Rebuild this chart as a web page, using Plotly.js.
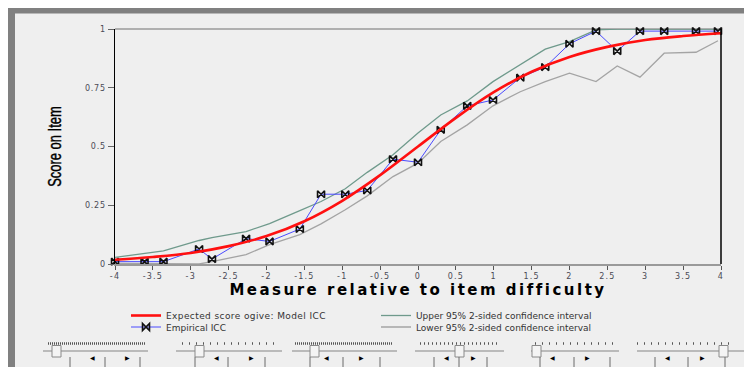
<!DOCTYPE html>
<html>
<head>
<meta charset="utf-8">
<script src="https://cdn.plot.ly/plotly-3.0.1.min.js"></script>
<style>
  html, body { margin: 0; padding: 0; background: #ffffff; }
  #chart { width: 744px; height: 367px; }
  .xtick text { letter-spacing: 1.2px; }
  .ytick text { letter-spacing: 0.8px; }
  .xtitle { letter-spacing: 2.5px; }
  .legendtext { letter-spacing: 0.4px; }
</style>
</head>
<body>
<div id="chart"></div>
<script>
// ---------------- data ----------------
const empiricalX = [-4, -3.61, -3.36, -2.89, -2.72, -2.27, -1.96, -1.56, -1.28, -0.96, -0.67, -0.33, 0, 0.3, 0.65, 0.99, 1.35, 1.68, 2.0, 2.35, 2.63, 2.93, 3.25, 3.67, 3.96];
const empiricalY = [0.01, 0.01, 0.01, 0.064, 0.021, 0.108, 0.096, 0.149, 0.297, 0.297, 0.313, 0.446, 0.433, 0.571, 0.673, 0.698, 0.793, 0.838, 0.937, 0.991, 0.906, 0.991, 0.991, 0.991, 0.991];
const upperCI   = [0.028, 0.046, 0.056, 0.100, 0.112, 0.138, 0.172, 0.227, 0.266, 0.320, 0.390, 0.465, 0.557, 0.634, 0.694, 0.776, 0.847, 0.914, 0.946, 0.996, 1, 1, 1, 1, 1];
const lowerCI   = [0.003, 0.002, 0.002, 0.0, 0.01, 0.04, 0.082, 0.125, 0.171, 0.231, 0.29, 0.372, 0.429, 0.521, 0.592, 0.673, 0.733, 0.776, 0.812, 0.776, 0.843, 0.795, 0.897, 0.901, 0.95];
const modelX = [-4, -3.5, -3, -2.5, -2, -1.5, -1, -0.5, 0, 0.5, 1, 1.5, 2, 2.5, 3, 3.5, 4];
const modelY = [0.018, 0.03, 0.047, 0.076, 0.119, 0.182, 0.269, 0.378, 0.5, 0.622, 0.731, 0.818, 0.881, 0.924, 0.953, 0.97, 0.982];
const xTickVals = [-4, -3.5, -3, -2.5, -2, -1.5, -1, -0.5, 0, 0.5, 1, 1.5, 2, 2.5, 3, 3.5, 4];
const xTickText = ['-4', '-3.5', '-3', '-2.5', '-2', '-1.5', '-1', '-0.5', '0', '0.5', '1', '1.5', '2', '2.5', '3', '3.5', '4'];
const yTickVals = [0, 0.25, 0.5, 0.75, 1];
const yTickText = ['0', '0.25', '0.5', '0.75', '1'];
const seriesNames = ['Expected score ogive: Model ICC', 'Empirical ICC', 'Upper 95% 2-sided confidence interval', 'Lower 95% 2-sided confidence interval'];
const xTitle = 'Measure relative to item difficulty';
const yTitle = 'Score on Item';

// ---------------- geometry helpers (layout only) ----------------
const W = 744, H = 367;
const M = { l: 115, r: 23, t: 29, b: 103 };
const PW = W - M.l - M.r, PH = H - M.t - M.b;
const px = v => (v - M.l) / PW;          // pixel x -> paper x
const py = v => (H - M.b - v) / PH;      // pixel y -> paper y

const traces = [
  { x: empiricalX, y: lowerCI, name: seriesNames[3], mode: 'lines', type: 'scatter',
    line: { color: '#a4a4a4', width: 1.3 }, legend: 'legend4', cliponaxis: false, hoverinfo: 'skip' },
  { x: empiricalX, y: upperCI, name: seriesNames[2], mode: 'lines', type: 'scatter',
    line: { color: '#6f9a8c', width: 1.3 }, legend: 'legend2', cliponaxis: false, hoverinfo: 'skip' },
  { x: empiricalX, y: empiricalY, name: seriesNames[1], mode: 'lines+markers', type: 'scatter',
    line: { color: '#4a4aff', width: 1 },
    marker: { symbol: 'bowtie-open', size: 7, color: '#111', line: { color: '#111', width: 1.6 } },
    legend: 'legend3', cliponaxis: false },
  { x: modelX, y: modelY, name: seriesNames[0], mode: 'lines', type: 'scatter',
    line: { color: '#ff1010', width: 2.6, shape: 'spline', smoothing: 1 }, legend: 'legend', cliponaxis: false }
];

const shapes = [];
const annotations = [];
// window frame
shapes.push({ type: 'rect', xref: 'paper', yref: 'paper', x0: px(0), x1: px(W), y0: py(0), y1: py(8), fillcolor: '#ffffff', line: { width: 0 }, layer: 'below' });
shapes.push({ type: 'rect', xref: 'paper', yref: 'paper', x0: px(0), x1: px(8), y0: py(0), y1: py(H), fillcolor: '#ffffff', line: { width: 0 }, layer: 'below' });
shapes.push({ type: 'rect', xref: 'paper', yref: 'paper', x0: px(8), x1: px(W), y0: py(8), y1: py(13.5), fillcolor: '#808080', line: { width: 0 }, layer: 'below' });
shapes.push({ type: 'rect', xref: 'paper', yref: 'paper', x0: px(8), x1: px(15), y0: py(8), y1: py(H), fillcolor: '#808080', line: { width: 0 }, layer: 'below' });
// plot border (top grey, right black)
shapes.push({ type: 'line', xref: 'paper', yref: 'paper', x0: 0, x1: 1, y0: 1, y1: 1, line: { color: '#9a9a9a', width: 1.5 }, layer: 'below' });
shapes.push({ type: 'line', xref: 'paper', yref: 'paper', x0: 1, x1: 1, y0: 0, y1: 1, line: { color: '#000000', width: 1.5 } });

// slider widgets at the bottom
const sliders = [
  { track: [43, 148], ticks: [48, 145], dash: '1px,1px', thumb: 52, btn: [70, 105, 140] },
  { track: [176, 282], ticks: [182, 278], dash: '1px,6px', thumb: 195, btn: [195, 228, 265] },
  { track: [292, 397], ticks: [295, 392], dash: '1px,1px', thumb: 310, btn: [310, 343, 380] },
  { track: [415, 504], ticks: [420, 500], dash: '1px,3px', thumb: 455, btn: [434, 459, 487] },
  { track: [531, 619], ticks: [535, 614], dash: '1px,6px', thumb: 532, btn: [540, 574, 610] },
  { track: [637, 744], ticks: [637, 735], dash: '1px,6px', thumb: 719, btn: [655, 688, 725] }
];
sliders.forEach(s => {
  shapes.push({ type: 'line', xref: 'paper', yref: 'paper', x0: px(s.ticks[0]), x1: px(s.ticks[1]), y0: py(343.5), y1: py(343.5), line: { color: '#555', width: 2.5, dash: s.dash } });
  shapes.push({ type: 'line', xref: 'paper', yref: 'paper', x0: px(s.track[0]), x1: px(s.track[1]), y0: py(351), y1: py(351), line: { color: '#a8a8a8', width: 1.5 } });
  shapes.push({ type: 'rect', xref: 'paper', yref: 'paper', x0: px(s.thumb), x1: px(s.thumb + 9), y0: py(345.5), y1: py(357), fillcolor: '#f4f4f4', line: { color: '#8a8a8a', width: 1 } });
  s.btn.forEach(b => {
    shapes.push({ type: 'line', xref: 'paper', yref: 'paper', x0: px(b), x1: px(b), y0: py(357), y1: py(367), line: { color: '#6a6a6a', width: 1 } });
  });
  annotations.push({ xref: 'paper', yref: 'paper', x: px((s.btn[0] + s.btn[1]) / 2), y: py(362.5), text: '◀', showarrow: false, font: { family: 'DejaVu Sans', size: 6, color: '#000' } });
  annotations.push({ xref: 'paper', yref: 'paper', x: px((s.btn[1] + s.btn[2]) / 2), y: py(362.5), text: '▶', showarrow: false, font: { family: 'DejaVu Sans', size: 6, color: '#000' } });
});

const legendBase = { bgcolor: 'rgba(0,0,0,0)', borderwidth: 0, xanchor: 'left', yanchor: 'middle',
  font: { family: 'DejaVu Sans', size: 9, color: '#333' }, itemclick: false, itemdoubleclick: false };

const layout = {
  width: W, height: H, autosize: false,
  margin: { l: M.l, r: M.r, t: M.t, b: M.b, pad: 0 },
  paper_bgcolor: '#efefef', plot_bgcolor: '#efefef',
  font: { family: 'DejaVu Sans', color: '#444' },
  showlegend: true,
  legend:  Object.assign({}, legendBase, { x: px(126), y: py(315.5) }),
  legend3: Object.assign({}, legendBase, { x: px(126), y: py(327) }),
  legend2: Object.assign({}, legendBase, { x: px(376), y: py(315.5) }),
  legend4: Object.assign({}, legendBase, { x: px(376), y: py(327) }),
  xaxis: {
    range: [-4, 4], tickmode: 'array', tickvals: xTickVals, ticktext: xTickText,
    ticks: 'outside', ticklen: 4, tickwidth: 1, tickcolor: '#555',
    showline: true, linecolor: '#9a9a9a', linewidth: 1.5, showgrid: false, zeroline: false,
    tickfont: { family: 'DejaVu Sans', size: 8, color: '#4a4a55' },
    title: { text: xTitle, standoff: 4, font: { family: 'DejaVu Sans', size: 15, weight: 'bold', color: '#000' } }
  },
  yaxis: {
    range: [0, 1], tickmode: 'array', tickvals: yTickVals, ticktext: yTickText,
    ticks: 'outside', ticklen: 6, tickwidth: 1, tickcolor: '#666',
    showline: true, linecolor: '#000', linewidth: 1.5, showgrid: false, zeroline: false,
    tickfont: { family: 'DejaVu Sans', size: 8, color: '#4a4a55' },
    title: { text: yTitle, standoff: 18, font: { family: 'Liberation Sans, Arial, sans-serif', size: 18, color: '#000' } }
  },
  shapes: shapes,
  annotations: annotations
};

Plotly.newPlot('chart', traces, layout, { displayModeBar: false, staticPlot: true }).then(gd => {
  // condense the y-axis title horizontally (narrow typeface look)
  const t = gd.querySelector('.ytitle');
  if (t) {
    const x = +t.getAttribute('x'), y = +t.getAttribute('y');
    const tr = t.getAttribute('transform') || '';
    t.setAttribute('transform', tr + ' translate(' + x + ',' + y + ') scale(0.72,1) translate(' + (-x) + ',' + (-y) + ')');
    t.style.strokeWidth = '0.4px';
    t.style.stroke = '#000';
  }
});
</script>
</body>
</html>
